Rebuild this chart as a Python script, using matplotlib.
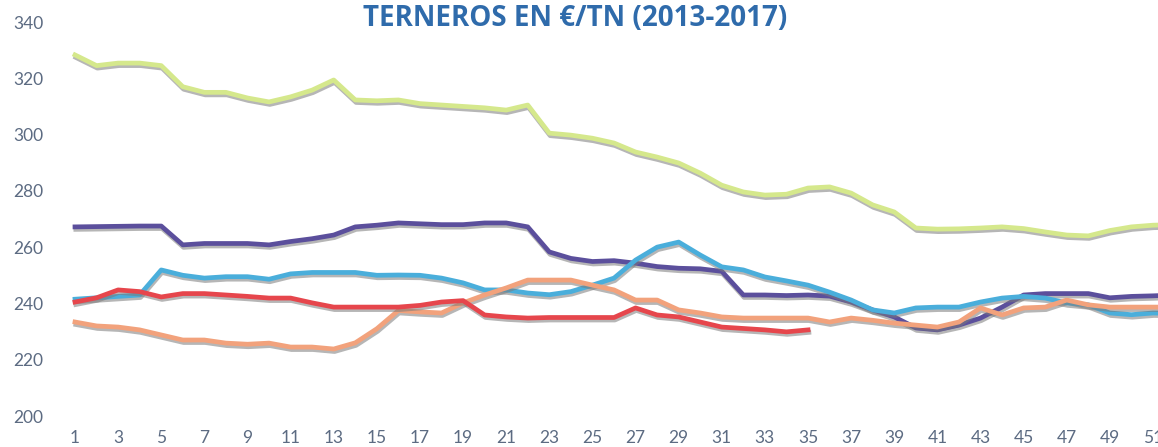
import matplotlib
matplotlib.use("Agg")
import matplotlib.pyplot as plt
import matplotlib.patheffects as pe
import numpy as np

# weekly prices, EUR/tn
weeks = np.arange(1, 53)

y2013 = [328.3, 324.5, 325.4, 325.4, 324.5, 317.0, 315.0, 315.0, 313.0, 311.6,
         313.4, 315.8, 319.4, 312.3, 312.0, 312.3, 311.0, 310.5, 310.0, 309.5,
         308.7, 310.5, 300.5, 299.8, 298.7, 297.0, 293.8, 292.0, 289.9, 286.3,
         282.0, 279.6, 278.5, 278.8, 281.0, 281.4, 279.2, 275.0, 272.5, 266.8,
         266.4, 266.5, 266.8, 267.2, 266.6, 265.4, 264.3, 264.0, 265.9, 267.2,
         267.8, 268.0]
y2014 = [267.2, 267.3, 267.4, 267.5, 267.5, 260.8, 261.3, 261.3, 261.3, 260.8,
         262.0, 263.0, 264.3, 267.2, 267.8, 268.6, 268.3, 268.0, 268.0, 268.6,
         268.6, 267.2, 258.3, 256.0, 254.9, 255.2, 254.3, 253.1, 252.5, 252.3,
         251.4, 243.0, 243.0, 242.8, 243.0, 242.6, 240.5, 237.7, 235.2, 231.3,
         230.6, 232.3, 234.8, 238.7, 243.0, 243.5, 243.5, 243.5, 242.0, 242.5,
         242.7, 243.0]
y2015 = [241.5, 242.0, 242.5, 243.0, 251.9, 250.0, 249.0, 249.5, 249.5, 248.6,
         250.5, 251.0, 251.0, 251.0, 250.0, 250.1, 250.0, 249.0, 247.3, 244.8,
         244.8, 243.7, 243.1, 244.2, 246.5, 249.0, 255.4, 260.0, 261.8, 257.2,
         253.0, 251.9, 249.4, 248.0, 246.5, 244.0, 241.2, 237.7, 236.6, 238.4,
         238.7, 238.7, 240.5, 241.9, 242.5, 241.9, 240.2, 239.5, 236.6, 236.0,
         236.6, 236.5]
y2016 = [233.4, 232.0, 231.6, 230.6, 228.8, 227.0, 227.0, 225.9, 225.5, 225.9,
         224.5, 224.5, 223.8, 226.0, 231.0, 237.5, 237.0, 236.6, 240.2, 243.0,
         245.5, 248.3, 248.3, 248.3, 246.5, 244.8, 241.2, 241.2, 237.7, 236.6,
         235.2, 234.8, 234.8, 234.8, 234.8, 233.4, 234.8, 234.0, 233.0, 232.3,
         231.6, 233.4, 238.4, 235.9, 238.4, 238.7, 241.2, 239.5, 238.7, 238.7,
         238.7, 238.7]
y2017 = [240.5, 242.0, 244.8, 244.2, 242.3, 243.5, 243.5, 243.0, 242.5, 241.9,
         241.9, 240.2, 238.7, 238.7, 238.7, 238.7, 239.3, 240.5, 241.0, 235.9,
         235.2, 234.8, 235.0, 235.0, 235.0, 235.0, 238.4, 235.9, 235.2, 233.4,
         231.6, 231.1, 230.6, 229.9, 230.6]

series = [y2013, y2014, y2015, y2016, y2017]
colors = ['#d5e88c', '#5b4f9c', '#4aaedb', '#f2a27c', '#e6464c']

W, H = 1158, 447
fig = plt.figure(figsize=(W / 100, H / 100), dpi=100)
# week 1 sits at x=75px, 21.56px per week, y 200 -> 416px, 340 -> 22px
x0 = 75 - 0.5 * 21.56
x1 = 75 + 51.5 * 21.56
ax = fig.add_axes([x0 / W, (H - 416) / H, (x1 - x0) / W, (416 - 22) / H])

shadow = [pe.SimpleLineShadow(offset=(0.6, -1.8), shadow_color='#7a7a7a', alpha=0.55),
          pe.Normal()]
for vals, c in zip(series, colors):
    ax.plot(weeks[:len(vals)], vals, color=c, lw=3.4, solid_joinstyle='round',
            path_effects=shadow)

ax.set_xlim(0.5, 52.5)
ax.set_ylim(200, 340)
ax.set_yticks(np.arange(200, 341, 20))
ax.set_xticks(np.arange(1, 53, 2))
for s in ax.spines.values():
    s.set_visible(False)
ax.tick_params(axis='both', length=0, labelsize=12.5, labelcolor='#5c6b82')
ax.tick_params(axis='y', pad=15)
ax.tick_params(axis='x', pad=10)
for t in ax.get_xticklabels() + ax.get_yticklabels():
    t.set_family('Lato')

fig.text(0.497, 1 - 18 / H, 'TERNEROS EN €/TN (2013-2017)', ha='center', va='center',
         fontsize=20, fontweight='bold', color='#2f6bab', family='Open Sans')

fig.savefig('out.png', dpi=100)
